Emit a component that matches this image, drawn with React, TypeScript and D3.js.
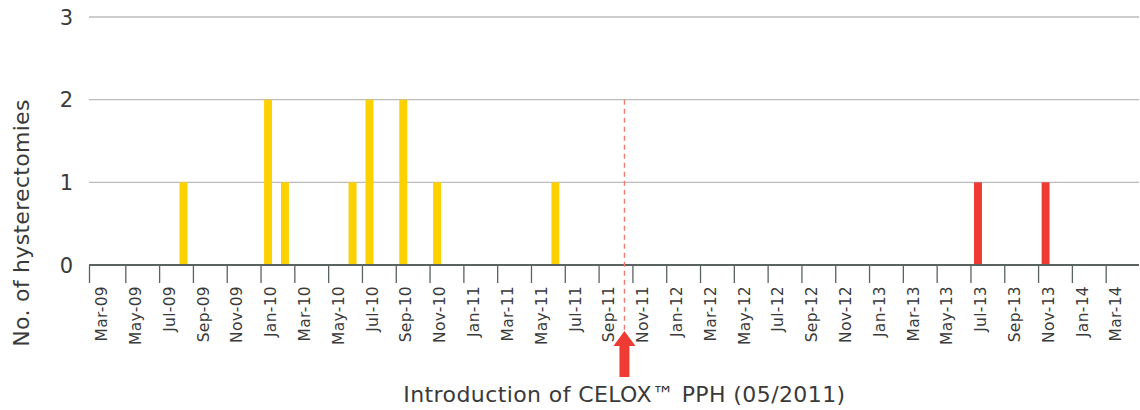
import * as d3 from "d3";

// monthly category axis, Mar-09 .. Apr-14
const firstMonth = new Date(2009, 2, 1);
const lastMonth = new Date(2014, 4, 1);
const fmt = d3.timeFormat("%b-%y");
const months = d3.timeMonth.range(firstMonth, lastMonth).map(fmt);

// hysterectomies before introduction (yellow)
const beforeMonths = ["Aug-09", "Jan-10", "Feb-10", "Jun-10", "Jul-10", "Sep-10", "Nov-10", "Jun-11"];
const beforeValues = [1, 2, 1, 1, 2, 2, 1, 1];

// after introduction (red)
const afterMonths = ["Jul-13", "Nov-13"];
const afterValues = [1, 1];

const introMonth = "Oct-11";
const yTicks = [0, 1, 2, 3];

const W = 1140;
const H = 410;
const FONT = "'DejaVu Sans', sans-serif";
const YELLOW = "#fdd000";
const RED = "#ee3b33";
const TEXT = "#3a3a3a";

export default function App() {
  const x = d3.scaleBand().domain(months).range([92, 1140]).padding(0);
  const y = d3.scaleLinear().domain([0, 3]).range([265, 17]);
  const step = x.step();
  const barW = step * 0.47;
  const barOff = step * 0.18;
  const x0 = 89;
  const x1 = 1139;

  const before = beforeMonths.map((m, i) => ({ m, v: beforeValues[i] }));
  const after = afterMonths.map((m, i) => ({ m, v: afterValues[i] }));
  const tickMonths = months.filter((_, i) => i % 2 === 0);

  const introX = x(introMonth)! + step / 2;

  return (
    <svg width={W} height={H} style={{ position: "absolute", left: 0, top: 0 }} fontFamily={FONT}>
      <rect width={W} height={H} fill="#fff" />

      {/* gridlines */}
      {yTicks.filter((t) => t > 0).map((t) => (
        <line key={t} x1={x0} x2={x1} y1={y(t)} y2={y(t)} stroke="#bcbcbc" strokeWidth={1.3} />
      ))}

      {/* y tick labels */}
      {yTicks.map((t) => (
        <text key={t} x={73} y={y(t)} dy="0.36em" textAnchor="end" fontSize={21} fill={TEXT}>
          {t}
        </text>
      ))}

      <text
        transform={`translate(29,${223}) rotate(-90)`}
        textAnchor="middle"
        fontSize={22}
        letterSpacing={0.3}
        fill={TEXT}
      >
        No. of hysterectomies
      </text>

      {/* bars */}
      {before.map((d) => (
        <rect key={d.m} x={x(d.m)! + barOff} y={y(d.v)} width={barW} height={y(0) - y(d.v)} fill={YELLOW} />
      ))}
      {after.map((d) => (
        <rect key={d.m} x={x(d.m)! + barOff} y={y(d.v)} width={barW} height={y(0) - y(d.v)} fill={RED} />
      ))}

      {/* x axis */}
      <line x1={x0} x2={x1} y1={y(0)} y2={y(0)} stroke="#5b6262" strokeWidth={2.2} />
      {tickMonths.map((m, i) => {
        const tx = i === 0 ? x0 + 0.5 : x(m)!;
        return (
          <g key={m}>
            <line x1={tx} x2={tx} y1={y(0)} y2={283} stroke="#5b6262" strokeWidth={1.3} />
            <text
              transform={`translate(${x(m)! + step * 0.9},286) rotate(-90)`}
              textAnchor="end"
              fontSize={15.5}
              letterSpacing={0.3}
              fill={TEXT}
            >
              {m}
            </text>
          </g>
        );
      })}

      {/* introduction marker */}
      <line x1={introX} x2={introX} y1={y(2)} y2={331} stroke="#f07a72" strokeWidth={1.4} strokeDasharray="5,4" />
      <path
        d={`M${introX},331 L${introX + 11},346 L${introX + 5},346 L${introX + 5},377 L${introX - 5},377 L${introX - 5},346 L${introX - 11},346 Z`}
        fill={RED}
      />
      <text x={introX} y={402} textAnchor="middle" fontSize={22} letterSpacing={0.4} fill={TEXT}>
        Introduction of CELOX™ PPH (05/2011)
      </text>
    </svg>
  );
}
